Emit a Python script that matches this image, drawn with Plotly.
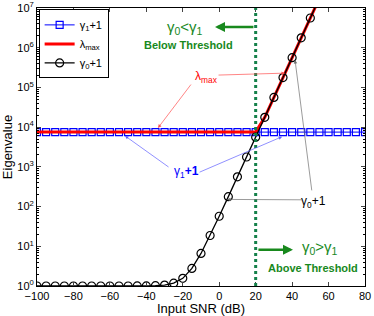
import plotly.graph_objects as go

# ---- data ----
snr_db = [-100, -95, -90, -85, -80, -75, -70, -65, -60, -55, -50, -45, -40, -35, -30,
          -25, -20, -15, -10, -5, 0, 5, 10, 15, 20, 25, 30, 35, 40, 45, 50, 55, 60,
          65, 70, 75, 80]
gamma1_p1 = [7500] * 37
gamma0_p1 = [1.0, 1.0, 1.0, 1.0, 1.0, 1.0, 1.0, 1.0, 1.0, 1.0, 1.0006, 1.0018, 1.006,
             1.018, 1.056, 1.18, 1.56, 2.77, 6.6, 18.7, 57, 178, 561, 1772, 5601,
             17709, 56001, 177085, 560001, 1.771e6, 5.6e6, 1.771e7, 5.6e7,
             1.771e8, 5.6e8, 1.771e9, 5.6e9]
lambda_max = [7500, 7500, 7500, 7500, 7500, 7500, 7500, 7500, 7500, 7500, 7500, 7500,
              7500, 7500, 7500, 7500, 7500, 7500, 7500, 7500, 7500, 7500, 7500, 7500,
              7500, 17709, 56001, 177085, 560001, 1.771e6, 5.6e6, 1.771e7, 5.6e7,
              1.771e8, 5.6e8, 1.771e9, 5.6e9]
threshold_db = 20
x_ticks = [-100, -80, -60, -40, -20, 0, 20, 40, 60, 80]
y_exps = [0, 1, 2, 3, 4, 5, 6, 7]

FONT = "Liberation Sans, Arial, Helvetica, sans-serif"
GREEN = "#18891d"

fig = go.Figure()
fig.add_trace(go.Scatter(
    x=snr_db, y=gamma1_p1, mode="lines+markers", name="γ<sub>1</sub>+1",
    line=dict(color="#0000ff", width=1),
    marker=dict(symbol="square-open", size=7, color="#0000ff", line=dict(width=1.2))))
fig.add_trace(go.Scatter(
    x=snr_db, y=lambda_max, mode="lines", name="λ<sub>max</sub>",
    line=dict(color="#ff0000", width=3)))
fig.add_trace(go.Scatter(
    x=snr_db, y=gamma0_p1, mode="lines+markers", name="γ<sub>0</sub>+1",
    line=dict(color="#000000", width=1.3),
    marker=dict(symbol="circle-open", size=8, color="#000000", line=dict(width=1.2))))

fig.add_vline(x=threshold_db, line=dict(color="#14804a", width=3, dash="dot"))

minor_vals = [m * 10 ** e for e in range(0, 7) for m in range(2, 10)]

fig.update_xaxes(
    range=[-100, 80], tickvals=x_ticks, ticks="inside", ticklen=4,
    showline=True, linecolor="black", linewidth=1, mirror="allticks",
    showgrid=False, zeroline=False, automargin=False,
    tickfont=dict(size=11, color="black"),
    title=dict(text="Input SNR (dB)", font=dict(size=13, color="black"), standoff=1))
fig.update_yaxes(
    type="log", range=[0, 7], tickvals=[10 ** e for e in y_exps],
    ticktext=[f"10<sup>{e}</sup>" for e in y_exps],
    ticks="inside", ticklen=4,
    minor=dict(tickvals=minor_vals, ticks="inside", ticklen=2, tickcolor="black", showgrid=False),
    showline=True, linecolor="black", linewidth=1, mirror="allticks",
    showgrid=False, zeroline=False, automargin=False,
    tickfont=dict(size=11, color="black"),
    title=dict(text="Eigenvalue", font=dict(size=13, color="black"), standoff=2))


def txt(x, y, text, color, size=11):
    fig.add_annotation(x=x, y=y, text=text, showarrow=False,
                       font=dict(size=size, color=color, family=FONT),
                       xanchor="center", yanchor="middle")


def arr(x0, y0, x1, y1, color, width=0.7, head=2, size=1.0):
    fig.add_annotation(x=x1, y=y1, ax=x0, ay=y0, axref="x", ayref="y",
                       xref="x", yref="y", text="", showarrow=True,
                       arrowhead=head, arrowsize=size, arrowwidth=width,
                       arrowcolor=color)


# green threshold annotations
txt(-18.8, 6.50, "γ<sub>0</sub>&lt;γ<sub>1</sub>", GREEN, 15)
txt(-17.1, 6.07, "<b>Below Threshold</b>", GREEN, 11)
arr(19.6, 6.52, -2.3, 6.52, GREEN, width=2.5, head=2, size=0.8)
txt(55.3, 0.96, "γ<sub>0</sub>&gt;γ<sub>1</sub>", GREEN, 15)
txt(51.5, 0.45, "<b>Above Threshold</b>", GREEN, 11)
arr(20.7, 0.91, 40.5, 0.91, GREEN, width=2.5, head=2, size=0.8)

# lambda max
txt(-7.2, 5.27, "λ<sub>max</sub>", "#ff0000", 12)
arr(-14.9, 5.11, -33.6, 3.98, "#ff5050")
arr(-1.2, 5.31, 36.1, 5.36, "#ff5050")

# gamma1+1
txt(-17.7, 2.87, "γ<sub>1</sub><b>+1</b>", "#0000ff", 12)
arr(-27.0, 2.97, -51.7, 3.78, "#6060ff")
arr(-11.6, 2.85, 34.5, 3.76, "#6060ff")

# gamma0+1
txt(52.0, 2.12, "γ<sub>0</sub>+1", "#000000", 12)
arr(46.0, 2.17, 4.3, 2.18, "#707070")
arr(50.9, 2.37, 41.6, 5.69, "#707070")

fig.update_layout(
    width=374, height=316,
    margin=dict(l=37, r=9, t=8, b=30),
    paper_bgcolor="white", plot_bgcolor="white",
    font=dict(family=FONT, size=11, color="black"),
    legend=dict(x=0.005, y=0.995, xanchor="left", yanchor="top",
                bgcolor="white", bordercolor="black", borderwidth=1,
                font=dict(size=11), itemwidth=30, tracegroupgap=2),
)

fig.write_html("out.html", config={"displayModeBar": False},
               post_script="document.body.style.margin='0';document.body.style.overflow='hidden';")
